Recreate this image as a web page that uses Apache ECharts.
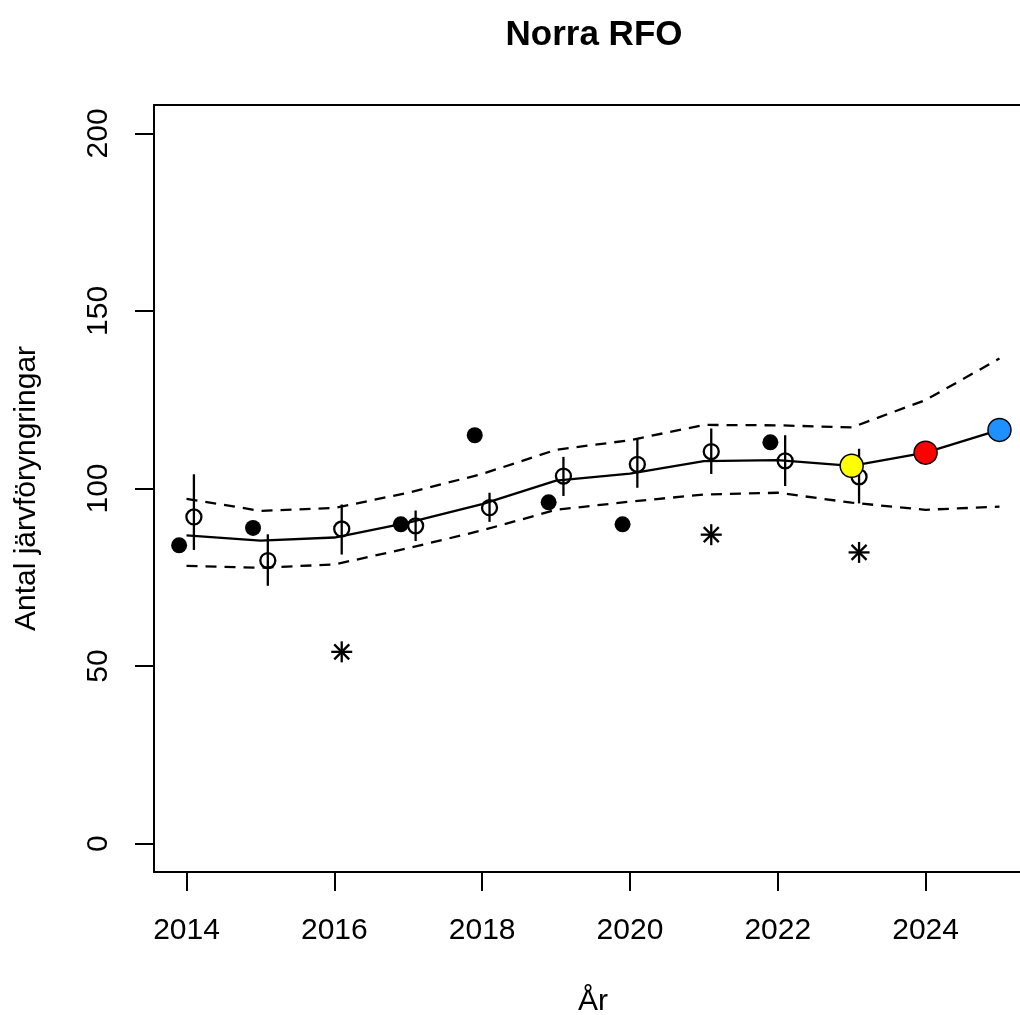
<!DOCTYPE html>
<html>
<head>
<meta charset="utf-8">
<script src="https://cdn.jsdelivr.net/npm/echarts@6/dist/echarts.min.js"></script>
<style>
  html, body { margin: 0; padding: 0; background: #fff; }
  #chart { width: 1020px; height: 1015px; }
</style>
</head>
<body>
<div id="chart"></div>
<script>
// Modelled trend with its confidence band (one value per year)
const years = [2014, 2015, 2016, 2017, 2018, 2019, 2020, 2021, 2022, 2023, 2024, 2025];
const trend = [86.8, 85.3, 86.2, 90.4, 95.6, 102.2, 104.2, 107.7, 108.0, 106.4, 110.1, 116.5];
const upper = [97.1, 93.7, 94.5, 98.8, 104.1, 110.9, 113.6, 117.9, 117.8, 117.2, 124.9, 136.6];
const lower = [78.2, 77.7, 78.6, 83.2, 88.2, 94.0, 96.3, 98.3, 98.8, 96.0, 94.0, 94.9];

// Yearly estimates with intervals (drawn slightly right of the year)
const estYears = [2014.1, 2015.1, 2016.1, 2017.1, 2018.1, 2019.1, 2020.1, 2021.1, 2022.1, 2023.1];
const estValue = [92.0, 79.7, 88.6, 89.5, 94.6, 103.5, 106.8, 110.4, 107.8, 103.3];
const estHigh  = [104.0, 87.1, 95.5, 93.8, 98.8, 108.9, 114.1, 116.9, 115.0, 111.2];
const estLow   = [82.7, 72.6, 81.4, 85.2, 90.6, 97.9, 100.2, 104.1, 100.7, 95.8];

// Observed counts (drawn slightly left of the year)
const obsYears = [2013.9, 2014.9, 2016.9, 2017.9, 2018.9, 2019.9, 2021.9];
const obsValue = [84.0, 88.9, 89.9, 115.0, 96.1, 89.9, 113.0];

// Extra marks shown as asterisks
const starYears = [2016.1, 2021.1, 2023.1];
const starValue = [54, 87, 82];

// Latest and forecast years
const fcYears = [2023, 2024, 2025];
const fcValue = [106.4, 110.1, 116.5];
const fcColors = ['#FFFF00', '#FF0000', '#1E90FF'];

// Tick labels
const xTicks = [2014, 2016, 2018, 2020, 2022, 2024];
const yTicks = [0, 50, 100, 150, 200];

const FONT = '"Liberation Sans", Arial, Helvetica, sans-serif';
const X_MIN = 2013.56, X_MAX = 2025.44;
const LW = 2.3;
const pairs = (xs, ys) => xs.map((x, i) => [x, ys[i]]);

const chart = echarts.init(document.getElementById('chart'), null, { renderer: 'canvas' });

const option = {
  animation: false,
  backgroundColor: '#fff',
  title: {
    text: 'Norra RFO',
    left: 589,
    top: 13,
    textAlign: 'center',
    textStyle: { fontFamily: FONT, fontWeight: 'bold', fontSize: 35, color: '#000' }
  },
  // plot box is open on the right: it runs on past the canvas edge
  grid: {
    left: 154, top: 105, width: 878, height: 767,
    outerBoundsMode: 'none',
    containLabel: false,
    show: false
  },
  xAxis: [
    {
      type: 'value',
      min: X_MIN, max: X_MAX,
      name: 'År',
      nameLocation: 'middle',
      nameGap: 115,
      nameTextStyle: { fontFamily: FONT, fontSize: 30, color: '#000' },
      axisLine: { show: true, onZero: false, lineStyle: { color: '#000', width: 2 } },
      splitLine: { show: false },
      axisTick: { show: true, inside: false, length: 19, customValues: xTicks,
                  lineStyle: { color: '#000', width: 2 } },
      axisLabel: { show: true, customValues: xTicks, margin: 44,
                   fontFamily: FONT, fontSize: 30, color: '#000',
                   formatter: v => String(Math.round(v)) }
    },
    {
      // top edge of the plot box
      type: 'value', position: 'top',
      min: X_MIN, max: X_MAX,
      axisLine: { show: true, onZero: false, lineStyle: { color: '#000', width: 2 } },
      axisTick: { show: false }, axisLabel: { show: false }, splitLine: { show: false }
    }
  ],
  yAxis: {
    type: 'value',
    min: -8, max: 208,
    name: 'Antal järvföryngringar',
    nameLocation: 'middle',
    nameGap: 112,
    nameTextStyle: { fontFamily: FONT, fontSize: 30, color: '#000' },
    axisLine: { show: true, onZero: false, lineStyle: { color: '#000', width: 2 } },
    splitLine: { show: false },
    axisTick: { show: true, inside: false, length: 19, customValues: yTicks,
                lineStyle: { color: '#000', width: 2 } },
    axisLabel: { show: true, customValues: yTicks, margin: 40, rotate: 90,
                 fontFamily: FONT, fontSize: 30, color: '#000',
                 formatter: v => String(Math.round(v)) }
  },
  series: [
    {
      name: 'upper', type: 'line', data: pairs(years, upper),
      symbol: 'none', z: 2,
      lineStyle: { color: '#000', width: LW, type: [11, 8] }
    },
    {
      name: 'lower', type: 'line', data: pairs(years, lower),
      symbol: 'none', z: 2,
      lineStyle: { color: '#000', width: LW, type: [11, 8] }
    },
    {
      name: 'trend', type: 'line', data: pairs(years, trend),
      symbol: 'none', z: 3,
      lineStyle: { color: '#000', width: LW }
    },
    {
      name: 'intervals', type: 'custom', z: 4,
      data: estYears.map((x, i) => [x, estLow[i], estHigh[i]]),
      encode: { x: 0, y: [1, 2] },
      renderItem: (params, api) => {
        const a = api.coord([api.value(0), api.value(1)]);
        const b = api.coord([api.value(0), api.value(2)]);
        return {
          type: 'line',
          shape: { x1: a[0], y1: a[1], x2: b[0], y2: b[1] },
          style: { stroke: '#000', lineWidth: LW }
        };
      }
    },
    {
      name: 'estimates', type: 'scatter', z: 5,
      data: pairs(estYears, estValue),
      symbol: 'circle', symbolSize: 15,
      itemStyle: { color: 'rgba(0,0,0,0)', borderColor: '#000', borderWidth: LW, opacity: 1 }
    },
    {
      name: 'observed', type: 'scatter', z: 5,
      data: pairs(obsYears, obsValue),
      symbol: 'circle', symbolSize: 16,
      itemStyle: { color: '#000', opacity: 1 }
    },
    {
      name: 'asterisks', type: 'custom', z: 5,
      data: pairs(starYears, starValue),
      encode: { x: 0, y: 1 },
      renderItem: (params, api) => {
        const c = api.coord([api.value(0), api.value(1)]);
        const r = 10.5, d = 7.5;
        const seg = (x1, y1, x2, y2) => ({
          type: 'line',
          shape: { x1: c[0] + x1, y1: c[1] + y1, x2: c[0] + x2, y2: c[1] + y2 },
          style: { stroke: '#000', lineWidth: LW }
        });
        return {
          type: 'group',
          children: [seg(0, -r, 0, r), seg(-r, 0, r, 0), seg(-d, -d, d, d), seg(-d, d, d, -d)]
        };
      }
    },
    {
      name: 'forecast', type: 'scatter', z: 6,
      data: fcYears.map((x, i) => ({
        value: [x, fcValue[i]],
        itemStyle: { color: fcColors[i] }
      })),
      symbol: 'circle', symbolSize: 23,
      itemStyle: { borderColor: '#000', borderWidth: 1.5, opacity: 1 }
    }
  ]
};

chart.setOption(option);
</script>
</body>
</html>
